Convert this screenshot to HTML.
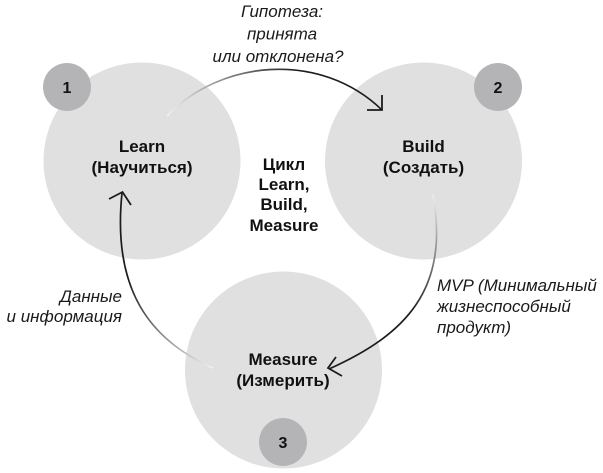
<!DOCTYPE html>
<html>
<head>
<meta charset="utf-8">
<style>
html,body{margin:0;padding:0;background:#fff;}
svg{display:block;}
.b{font-family:"Liberation Sans","Noto Sans CJK SC",sans-serif;font-weight:bold;font-size:17px;fill:#111;}
.i{font-family:"Liberation Sans","Noto Sans CJK SC",sans-serif;font-style:italic;font-size:17px;fill:#1a1a1a;}
.n{font-family:"Liberation Sans",sans-serif;font-weight:bold;font-size:16px;fill:#111;}
</style>
</head>
<body>
<svg width="603" height="473" viewBox="0 0 603 473" xmlns="http://www.w3.org/2000/svg">
<defs>
<linearGradient id="g1" gradientUnits="userSpaceOnUse" x1="167" y1="116" x2="300" y2="72">
<stop offset="0" stop-color="#f2f2f2"/>
<stop offset="1" stop-color="#1c1c1c"/>
</linearGradient>
<linearGradient id="g2" gradientUnits="userSpaceOnUse" x1="433" y1="195" x2="425" y2="315">
<stop offset="0" stop-color="#efefef"/>
<stop offset="1" stop-color="#1c1c1c"/>
</linearGradient>
<linearGradient id="g3" gradientUnits="userSpaceOnUse" x1="213" y1="368" x2="130" y2="280">
<stop offset="0" stop-color="#f2f2f2"/>
<stop offset="1" stop-color="#1c1c1c"/>
</linearGradient>
</defs>

<!-- big circles -->
<circle cx="142" cy="161" r="98.5" fill="#e0e0e1"/>
<circle cx="423.5" cy="161" r="98.5" fill="#e0e0e1"/>
<circle cx="283.5" cy="370" r="98.5" fill="#e0e0e1"/>

<!-- small circles -->
<circle cx="67" cy="87" r="24" fill="#b4b4b6"/>
<circle cx="498" cy="87" r="24" fill="#b4b4b6"/>
<circle cx="283" cy="442" r="24" fill="#b4b4b6"/>
<text class="n" x="67" y="93" text-anchor="middle">1</text>
<text class="n" x="498" y="93" text-anchor="middle">2</text>
<text class="n" x="283" y="448" text-anchor="middle">3</text>

<!-- arrows -->
<path d="M167 116 C220 60 320 50 382 110" fill="none" stroke="url(#g1)" stroke-width="1.7"/>
<path d="M382 95 L382 110 L367 110" fill="none" stroke="#1c1c1c" stroke-width="1.8"/>

<path d="M433 195 C450 290 405 335 329 369" fill="none" stroke="url(#g2)" stroke-width="1.7"/>
<path d="M336 357 L328 368 L342 376" fill="none" stroke="#1c1c1c" stroke-width="1.8"/>

<path d="M213 368 C150 340 112 290 122 193" fill="none" stroke="url(#g3)" stroke-width="1.7"/>
<path d="M109 199 L122.5 192 L131 205" fill="none" stroke="#1c1c1c" stroke-width="1.8"/>

<!-- circle labels -->
<text class="b" x="142" y="152" text-anchor="middle">Learn</text>
<text class="b" x="142" y="173" text-anchor="middle">(Научиться)</text>
<text class="b" x="423.5" y="152" text-anchor="middle">Build</text>
<text class="b" x="423.5" y="173" text-anchor="middle">(Создать)</text>
<text class="b" x="283" y="365" text-anchor="middle">Measure</text>
<text class="b" x="283" y="386" text-anchor="middle">(Измерить)</text>

<!-- center -->
<text class="b" x="284" y="170" text-anchor="middle">Цикл</text>
<text class="b" x="284" y="190" text-anchor="middle">Learn,</text>
<text class="b" x="284" y="210" text-anchor="middle">Build,</text>
<text class="b" x="284" y="231" text-anchor="middle">Measure</text>

<!-- connector labels -->
<text class="i" x="282" y="17" text-anchor="middle">Гипотеза:</text>
<text class="i" x="282" y="39.5" text-anchor="middle">принята</text>
<text class="i" x="278" y="62" text-anchor="middle">или отклонена?</text>

<text class="i" x="122" y="302" text-anchor="end">Данные</text>
<text class="i" x="122" y="322" text-anchor="end">и информация</text>

<text class="i" x="437" y="291">MVP (Минимальный</text>
<text class="i" x="437" y="312">жизнеспособный</text>
<text class="i" x="437" y="333">продукт)</text>
</svg>
</body>
</html>
